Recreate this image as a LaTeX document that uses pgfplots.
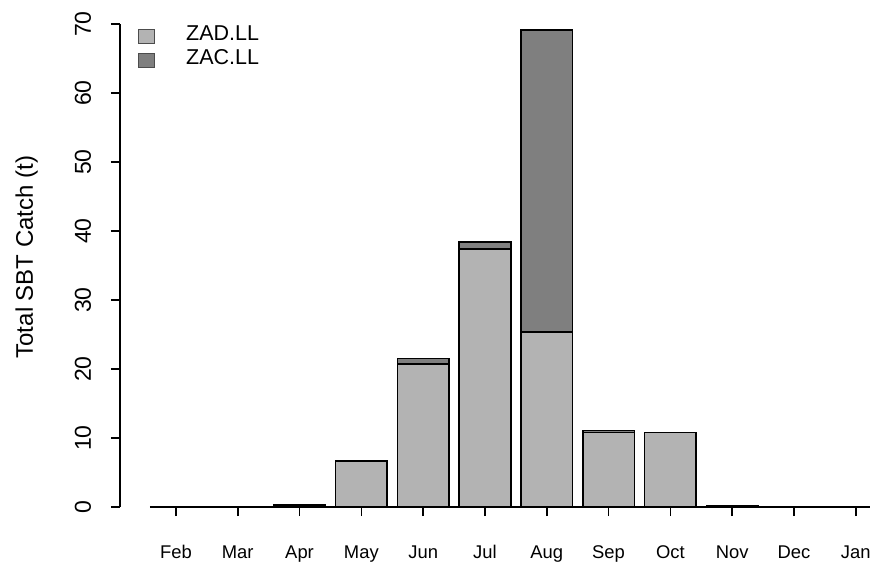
\documentclass[border=0pt]{standalone}
\usepackage{fontspec}
\setmainfont{Liberation Sans}
\usepackage{pgfplots}
\pgfplotsset{compat=1.18}

\definecolor{zad}{HTML}{B3B3B3}
\definecolor{zac}{HTML}{7F7F7F}

\begin{document}
\begin{tikzpicture}
\useasboundingbox (-150pt,-56pt) rectangle (720pt,507pt);
\begin{axis}[
  scale only axis,
  width=720pt, height=483pt,
  ybar stacked,
  bar width=0.8333,
  xmin=-0.42, xmax=11.23,
  ymin=0, ymax=70,
  axis x line*=bottom,
  axis y line*=left,
  axis y line shift=30pt,
  axis line style={-, line width=1.6pt},
  every tick/.style={black, line width=1.6pt},
  tick align=outside,
  major tick length=9pt,
  xtick={0,...,11},
  xticklabels={Feb,Mar,Apr,May,Jun,Jul,Aug,Sep,Oct,Nov,Dec,Jan},
  ytick={0,10,...,70},
  x tick label style={font=\fontsize{18.4}{22}\selectfont, anchor=base, yshift=-42pt},
  y tick label style={font=\fontsize{23}{27}\selectfont, rotate=90, anchor=base, yshift=20pt},
  /pgf/number format/assume math mode=true,
  ylabel={Total SBT Catch (t)},
  ylabel style={font=\fontsize{24}{28}\selectfont, at={(axis description cs:-0.1625,0.5176)}, anchor=base},
  legend style={draw=none, fill=none, at={(axis description cs:-0.0167,1)}, anchor=north west,
    font=\fontsize{21.5}{24}\selectfont, inner sep=0pt, row sep=0pt,
    nodes={inner sep=0pt, text height=16pt, text depth=8pt},
    /tikz/every odd column/.append style={column sep=31pt}},
  legend cell align=left,
  legend image code/.code={\draw[#1, draw=black!70, line width=1pt] (0pt,-7pt) rectangle (16pt,7pt);},
]
\addplot[fill=zad, draw=black, line width=1.6pt]
  coordinates {(0,0) (1,0.1) (2,0.3) (3,6.7) (4,20.7) (5,37.4) (6,25.4) (7,10.8) (8,10.8) (9,0.2) (10,0.1) (11,0)};
\addplot[fill=zac, draw=black, line width=1.6pt]
  coordinates {(0,0) (1,0) (2,0) (3,0) (4,0.8) (5,1.0) (6,43.7) (7,0.3) (8,0) (9,0) (10,0) (11,0)};
\legend{ZAD.LL,ZAC.LL}
\end{axis}
\end{tikzpicture}
\end{document}
